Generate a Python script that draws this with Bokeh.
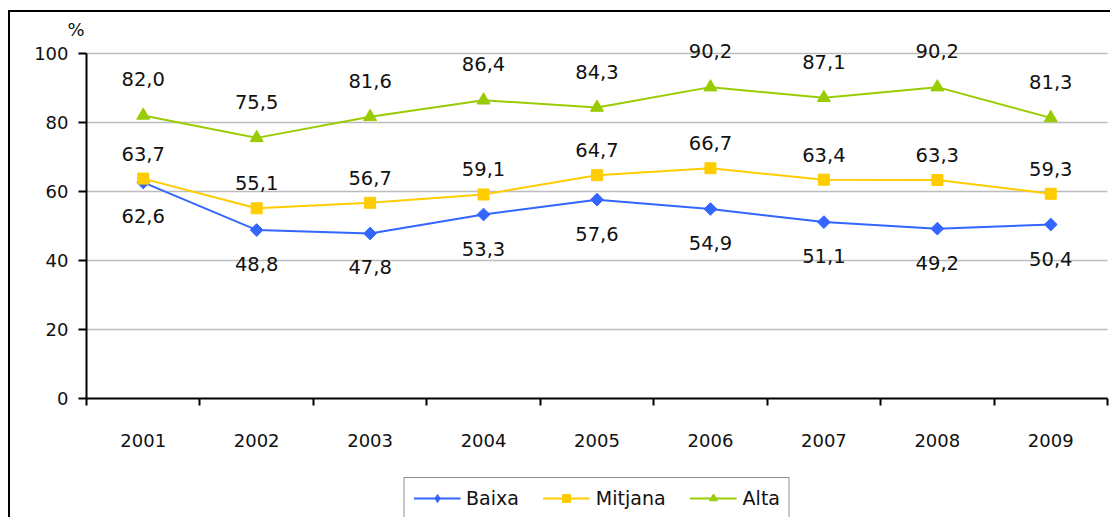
import math
from bokeh.plotting import figure
from bokeh.layouts import column
from bokeh.models import (ColumnDataSource, FixedTicker, LabelSet, Legend,
                          LegendItem, Title)
from bokeh.core.properties import value
from bokeh.embed import file_html
from bokeh.resources import INLINE

years = ["2001", "2002", "2003", "2004", "2005", "2006", "2007", "2008", "2009"]
baixa = [62.6, 48.8, 47.8, 53.3, 57.6, 54.9, 51.1, 49.2, 50.4]
mitjana = [63.7, 55.1, 56.7, 59.1, 64.7, 66.7, 63.4, 63.3, 59.3]
alta = [82.0, 75.5, 81.6, 86.4, 84.3, 90.2, 87.1, 90.2, 81.3]
y_ticks = [0, 20, 40, 60, 80, 100]

FONT = "DejaVu Sans"
xs = [i + 0.5 for i in range(len(years))]

def fmt(v):
    return f"{v:.1f}".replace(".", ",")

p = figure(width=1100, height=460, output_backend="svg", toolbar_location=None,
           x_range=(0, len(years)), y_range=(0, 104),
           min_border_left=76, min_border_right=3, min_border_top=27, min_border_bottom=74)
p.outline_line_color = None
p.background_fill_color = "white"
p.border_fill_color = "white"

# "%" unit label above the y axis
p.add_layout(Title(text="%", align="left", offset=-19, standoff=0,
                   text_font=FONT, text_font_size="18px", text_font_style="normal",
                   text_color="#111111"), "above")

# axes
p.xaxis.ticker = FixedTicker(ticks=xs, minor_ticks=list(range(len(years) + 1)))
p.xaxis.major_label_overrides = {x: y for x, y in zip(xs, years)}
p.xaxis.major_tick_line_color = None
p.xaxis.major_tick_out = 0
p.xaxis.major_tick_in = 0
p.xaxis.minor_tick_line_color = "black"
p.xaxis.minor_tick_line_width = 2
p.xaxis.minor_tick_out = 7
p.xaxis.minor_tick_in = 0
p.xaxis.major_label_standoff = 28
p.xaxis.axis_line_width = 2
p.xaxis.axis_line_color = "black"

p.yaxis.ticker = FixedTicker(ticks=y_ticks)
p.yaxis.bounds = (0, 100)
p.yaxis.minor_tick_line_color = None
p.yaxis.major_tick_out = 8
p.yaxis.major_tick_in = 0
p.yaxis.major_tick_line_width = 2
p.yaxis.major_tick_line_color = "black"
p.yaxis.major_label_standoff = 10
p.yaxis.axis_line_width = 2
p.yaxis.axis_line_color = "black"

for ax in (p.xaxis, p.yaxis):
    ax.major_label_text_font = FONT
    ax.major_label_text_font_size = "18px"
    ax.major_label_text_color = "#111111"

p.xgrid.grid_line_color = None
p.ygrid.ticker = FixedTicker(ticks=y_ticks[1:])
p.ygrid.grid_line_color = "#7a7a7a"
p.ygrid.grid_line_dash = "1 1"
p.ygrid.grid_line_width = 1.5

src = ColumnDataSource(dict(
    x=xs, baixa=baixa, mitjana=mitjana, alta=alta,
    baixa_t=[fmt(v) for v in baixa], mitjana_t=[fmt(v) for v in mitjana],
    alta_t=[fmt(v) for v in alta]))

# name, column, colour, marker, size, angle, legend marker
series = [
    ("Baixa", "baixa", "#3366FF", "square", 9, math.pi / 4, "diamond"),
    ("Mitjana", "mitjana", "#FFCC00", "square", 11, 0.0, "square"),
    ("Alta", "alta", "#99CC00", "triangle", 13, 0.0, "triangle"),
]
for name, col, color, marker, size, ang, lm in series:
    p.line("x", col, source=src, line_color=color, line_width=2)
    p.scatter("x", col, source=src, marker=marker, size=size, angle=ang,
              fill_color=color, line_color=color)

offsets = {"baixa": -34, "mitjana": 25, "alta": 36}
for name, col, color, marker, size, ang, lm in series:
    ls = LabelSet(x="x", y=col, text=col + "_t", source=src, y_offset=offsets[col],
                  text_align="center", text_baseline="middle",
                  text_font=value(FONT), text_font_size=value("19.5px"),
                  text_color="#111111")
    p.add_layout(ls)

# legend strip below the chart (its own series renderers lie outside its view)
pl = figure(width=1100, height=45, output_backend="svg", toolbar_location=None,
            x_axis_type=None, y_axis_type=None, x_range=(-20, -10), y_range=(-20, -10),
            min_border_left=70, min_border_right=0, min_border_top=0, min_border_bottom=0)
pl.outline_line_color = None
items = []
for name, col, color, marker, size, ang, lm in series:
    l = pl.line("x", col, source=src, line_color=color, line_width=2)
    s = pl.scatter("x", col, source=src, marker=lm, size=size,
                   fill_color=color, line_color=color)
    items.append(LegendItem(label=name, renderers=[l, s]))

legend = Legend(items=items, orientation="horizontal", location="top_center",
                label_text_font=FONT, label_text_font_size="19px",
                label_text_color="#111111", glyph_width=47, glyph_height=20,
                spacing=24, padding=9, margin=5, label_standoff=6,
                border_line_color="#222222", border_line_width=1,
                background_fill_alpha=1)
pl.add_layout(legend, "center")

layout = column(p, pl, spacing=0,
                styles={"margin-left": "8px", "margin-top": "10px",
                        "border-left": "2px solid black",
                        "border-top": "2px solid black"})

open("out.html", "w").write(file_html(layout, INLINE))
